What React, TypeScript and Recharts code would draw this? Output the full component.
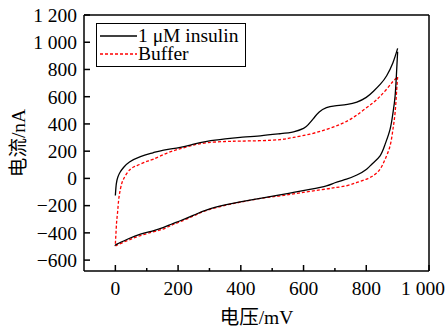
import { LineChart, Line, XAxis, YAxis, ReferenceLine } from 'recharts';

// cyclic voltammograms: [potential mV, current nA]
const insulinForward = [
  [0, -125], [3, -40], [8, 10], [15, 45], [26, 80], [45, 120], [80, 160], [120, 188], [154, 208],
  [207, 228], [250, 252], [292, 272], [350, 290], [398, 301], [462, 313], [525, 328], [568, 342],
  [600, 367], [615, 395], [632, 441], [650, 488], [673, 519], [700, 532], [740, 543], [770, 560],
  [800, 595], [823, 640], [845, 692], [865, 754], [885, 850], [900, 955],
];
const insulinReverse = [
  [900, 930], [897, 800], [892, 607], [885, 480], [876, 362], [860, 250], [844, 166], [820, 110],
  [801, 68], [770, 25], [737, -5], [700, -32], [673, -54], [620, -80], [568, -103], [520, -123],
  [462, -147], [398, -172], [350, -195], [292, -231], [250, -270], [207, -311], [180, -335],
  [154, -360], [120, -385], [80, -409], [40, -445], [5, -483], [0, -495],
];
const bufferForward = [
  [0, -480], [2, -400], [4, -320], [7, -250], [10, -170], [14, -103], [20, -40], [26, -5], [36, 35],
  [48, 68], [62, 88], [80, 105], [100, 125], [122, 142], [165, 186], [207, 218], [250, 245],
  [292, 262], [350, 271], [398, 274], [462, 277], [525, 285], [568, 301], [620, 325], [673, 360],
  [720, 400], [759, 448], [790, 500], [823, 558], [845, 605], [865, 656], [885, 712], [900, 745],
];
const bufferReverse = [
  [900, 745], [897, 650], [892, 485], [885, 360], [876, 240], [860, 140], [844, 68], [825, 25],
  [801, -5], [770, -30], [737, -54], [700, -68], [673, -78], [620, -95], [568, -114], [520, -130],
  [462, -147], [398, -175], [350, -198], [292, -234], [250, -275], [207, -318], [180, -343],
  [154, -370], [120, -393], [80, -420], [40, -455], [5, -490], [0, -500],
];

const xTicks = [0, 100, 200, 300, 400, 500, 600, 700, 800, 900, 1000];
const yTicks = [-600, -500, -400, -300, -200, -100, 0, 100, 200, 300, 400, 500, 600, 700, 800, 900, 1000, 1100, 1200];

const FONT = "'Liberation Serif', 'Noto Sans CJK SC', serif";
const FS = 19.5;
const W = 447;
const H = 329;

const toPts = (arr: number[][]) => arr.map(([x, y]) => ({ x, y }));

const fmt = (v: number) => {
  const a = Math.abs(v);
  const s = a >= 1000 ? `${Math.floor(a / 1000)} ${String(a % 1000).padStart(3, '0')}` : String(a);
  return v < 0 ? '\u2212' + s : s;
};

const YTick = ({ x, y, payload }: any) => {
  const major = payload.value % 200 === 0;
  return (
    <g>
      <line x1={x} x2={x + (major ? 6 : 3)} y1={y} y2={y} stroke="#000" strokeWidth={1.5} />
      {major && (
        <text x={x - 7} y={y} dy="0.35em" textAnchor="end" fontSize={FS} fontFamily={FONT} fill="#000">
          {fmt(payload.value)}
        </text>
      )}
    </g>
  );
};

const XTick = ({ x, y, payload }: any) => {
  const major = payload.value % 200 === 0;
  // keep the last label inside the picture
  const tx = Math.min(x, W - 24);
  return (
    <g>
      <line x1={x} x2={x} y1={y} y2={y - (major ? 6 : 3)} stroke="#000" strokeWidth={1.5} />
      {major && (
        <text x={tx} y={y + 24} textAnchor="middle" fontSize={FS} fontFamily={FONT} fill="#000">
          {fmt(payload.value)}
        </text>
      )}
    </g>
  );
};

const LegendBox = () => (
  <div
    style={{
      position: 'absolute', left: 96, top: 23, width: 150, height: 44, boxSizing: 'border-box',
      border: '1.5px solid #000', background: '#fff', fontFamily: FONT, fontSize: FS,
    }}
  >
    {[
      { name: '1 \u03bcM insulin', color: '#000', dash: undefined },
      { name: 'Buffer', color: '#ff0000', dash: '3 2' },
    ].map((it, i) => (
      <div key={i} style={{ position: 'absolute', left: 3, top: 3 + i * 18, height: 18, display: 'flex', alignItems: 'center' }}>
        <svg width={37} height={18} style={{ flex: 'none' }}>
          <line x1={0} x2={37} y1={9} y2={9} stroke={it.color} strokeWidth={1.3} strokeDasharray={it.dash} />
        </svg>
        <span style={{ marginLeft: 1, lineHeight: '18px', whiteSpace: 'nowrap' }}>{it.name}</span>
      </div>
    ))}
  </div>
);

export default function App() {
  return (
    <div style={{ position: 'absolute', left: 0, top: 0, width: W, height: H, background: '#fff' }}>
      <LineChart width={W} height={H} margin={{ top: 15, right: 18, bottom: 0, left: 0 }}>
        <XAxis
          dataKey="x"
          type="number"
          domain={[-100, 1000]}
          ticks={xTicks}
          allowDataOverflow
          height={58}
          tickSize={0}
          tickMargin={0}
          tickLine={false}
          tick={<XTick />}
          axisLine={{ stroke: '#000', strokeWidth: 1.5 }}
          label={{
            content: (p: any) => (
              <text
                x={p.viewBox.x + p.viewBox.width / 2}
                y={p.viewBox.y + 53}
                textAnchor="middle"
                fontSize={FS}
                fontFamily={FONT}
                fill="#000"
              >
                电压/mV
              </text>
            ),
          }}
        />
        <YAxis
          dataKey="y"
          type="number"
          domain={[-680, 1200]}
          ticks={yTicks}
          allowDataOverflow
          width={84}
          tickSize={0}
          tickMargin={0}
          tickLine={false}
          tick={<YTick />}
          axisLine={{ stroke: '#000', strokeWidth: 1.5 }}
          label={{
            content: (p: any) => {
              const cx = p.viewBox.x + 18.5;
              const cy = p.viewBox.y + p.viewBox.height / 2;
              return (
                <text
                  x={cx}
                  y={cy}
                  transform={`rotate(-90 ${cx} ${cy})`}
                  textAnchor="middle"
                  dominantBaseline="central"
                  fontSize={FS}
                  fontFamily={FONT}
                  fill="#000"
                >
                  电流/nA
                </text>
              );
            },
          }}
        />
        <ReferenceLine y={1200} stroke="#000" strokeWidth={1.5} />
        <ReferenceLine x={1000} stroke="#000" strokeWidth={1.5} />
        <Line data={toPts(bufferForward)} dataKey="y" type="natural" stroke="#ff0000" strokeWidth={1.3} strokeDasharray="3 2" dot={false} isAnimationActive={false} />
        <Line data={toPts(bufferReverse)} dataKey="y" type="natural" stroke="#ff0000" strokeWidth={1.3} strokeDasharray="3 2" dot={false} isAnimationActive={false} />
        <Line data={toPts(insulinForward)} dataKey="y" type="natural" stroke="#000" strokeWidth={1.3} dot={false} isAnimationActive={false} />
        <Line data={toPts(insulinReverse)} dataKey="y" type="natural" stroke="#000" strokeWidth={1.3} dot={false} isAnimationActive={false} />
      </LineChart>
      <LegendBox />
    </div>
  );
}
